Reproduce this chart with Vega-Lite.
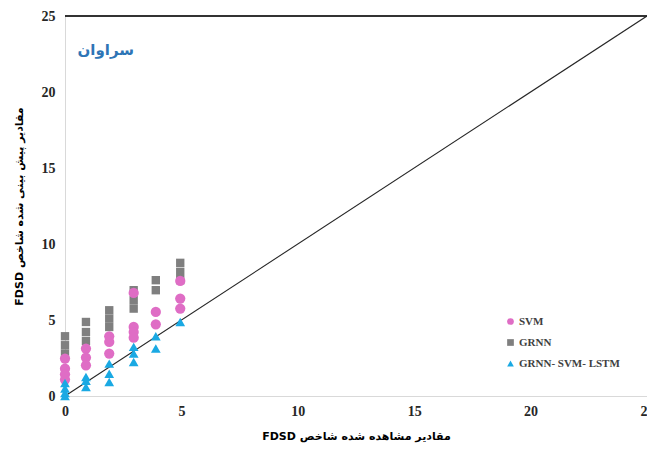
{
  "$schema": "https://vega.github.io/schema/vega-lite/v6.json",
  "width": 582,
  "height": 380,
  "autosize": {"type": "none"},
  "padding": {"left": 65, "top": 16, "right": 0, "bottom": 54},
  "background": "white",
  "config": {
    "view": {"stroke": null},
    "axis": {
      "grid": false,
      "ticks": false,
      "labelFlush": false,
      "domainColor": "#d9d9d9",
      "labelFont": "Liberation Serif",
      "labelFontSize": 14,
      "labelFontWeight": "bold",
      "labelColor": "#262626",
      "titleFont": "DejaVu Sans",
      "titleFontSize": 11,
      "titleFontWeight": "bold",
      "titleColor": "#000000"
    },
    "legend": {
      "symbolSize": 45
    }
  },
  "datasets": {
    "points": [
      {"model": "GRNN", "observed": 0, "predicted": 3.93},
      {"model": "GRNN", "observed": 0, "predicted": 3.34},
      {"model": "GRNN", "observed": 0, "predicted": 2.79},
      {"model": "GRNN", "observed": 0.9, "predicted": 4.87},
      {"model": "GRNN", "observed": 0.9, "predicted": 4.21},
      {"model": "GRNN", "observed": 0.9, "predicted": 3.62},
      {"model": "GRNN", "observed": 1.9, "predicted": 5.64},
      {"model": "GRNN", "observed": 1.9, "predicted": 5.09},
      {"model": "GRNN", "observed": 1.9, "predicted": 4.54},
      {"model": "GRNN", "observed": 2.95, "predicted": 6.96},
      {"model": "GRNN", "observed": 2.95, "predicted": 6.3},
      {"model": "GRNN", "observed": 2.95, "predicted": 5.75},
      {"model": "GRNN", "observed": 3.9, "predicted": 7.62},
      {"model": "GRNN", "observed": 3.9, "predicted": 6.96},
      {"model": "GRNN", "observed": 4.95, "predicted": 8.76},
      {"model": "GRNN", "observed": 4.95, "predicted": 8.17},
      {"model": "GRNN", "observed": 4.95, "predicted": 7.62},
      {"model": "SVM", "observed": 0, "predicted": 2.46},
      {"model": "SVM", "observed": 0, "predicted": 1.8},
      {"model": "SVM", "observed": 0, "predicted": 1.43},
      {"model": "SVM", "observed": 0, "predicted": 1.08},
      {"model": "SVM", "observed": 0.9, "predicted": 3.12},
      {"model": "SVM", "observed": 0.9, "predicted": 2.53},
      {"model": "SVM", "observed": 0.9, "predicted": 2.02},
      {"model": "SVM", "observed": 1.9, "predicted": 3.93},
      {"model": "SVM", "observed": 1.9, "predicted": 3.56},
      {"model": "SVM", "observed": 1.9, "predicted": 2.79},
      {"model": "SVM", "observed": 2.95, "predicted": 6.78},
      {"model": "SVM", "observed": 2.95, "predicted": 4.54},
      {"model": "SVM", "observed": 2.95, "predicted": 4.21},
      {"model": "SVM", "observed": 2.95, "predicted": 3.84},
      {"model": "SVM", "observed": 3.9, "predicted": 5.53},
      {"model": "SVM", "observed": 3.9, "predicted": 4.72},
      {"model": "SVM", "observed": 4.95, "predicted": 7.57},
      {"model": "SVM", "observed": 4.95, "predicted": 6.41},
      {"model": "SVM", "observed": 4.95, "predicted": 5.75},
      {"model": "GRNN- SVM- LSTM", "observed": 0, "predicted": 0.86},
      {"model": "GRNN- SVM- LSTM", "observed": 0, "predicted": 0.49},
      {"model": "GRNN- SVM- LSTM", "observed": 0, "predicted": 0.2},
      {"model": "GRNN- SVM- LSTM", "observed": 0, "predicted": 0.0},
      {"model": "GRNN- SVM- LSTM", "observed": 0.9, "predicted": 1.25},
      {"model": "GRNN- SVM- LSTM", "observed": 0.9, "predicted": 1.0},
      {"model": "GRNN- SVM- LSTM", "observed": 0.9, "predicted": 0.59},
      {"model": "GRNN- SVM- LSTM", "observed": 1.9, "predicted": 2.13},
      {"model": "GRNN- SVM- LSTM", "observed": 1.9, "predicted": 1.47},
      {"model": "GRNN- SVM- LSTM", "observed": 1.9, "predicted": 0.92},
      {"model": "GRNN- SVM- LSTM", "observed": 2.95, "predicted": 3.23},
      {"model": "GRNN- SVM- LSTM", "observed": 2.95, "predicted": 2.79},
      {"model": "GRNN- SVM- LSTM", "observed": 2.95, "predicted": 2.24},
      {"model": "GRNN- SVM- LSTM", "observed": 3.9, "predicted": 3.93},
      {"model": "GRNN- SVM- LSTM", "observed": 3.9, "predicted": 3.12},
      {"model": "GRNN- SVM- LSTM", "observed": 4.95, "predicted": 4.87}
    ],
    "identity": [
      {"observed": 0, "predicted": 0},
      {"observed": 25, "predicted": 25}
    ],
    "station": [
      {"name": "سراوان", "observed": 1.75, "predicted": 22.75}
    ]
  },
  "encoding": {
    "x": {
      "field": "observed",
      "type": "quantitative",
      "scale": {"domain": [0, 25], "nice": false},
      "axis": {"values": [0, 5, 10, 15, 20, 25], "labelPadding": 8, "title": "FDSD مقادیر مشاهده شده شاخص", "titlePadding": 12}
    },
    "y": {
      "field": "predicted",
      "type": "quantitative",
      "scale": {"domain": [0, 25], "nice": false},
      "axis": {"values": [0, 5, 10, 15, 20, 25], "labelPadding": 10, "title": "FDSD مقادیر پیش بینی شده شاخص", "titlePadding": 17}
    }
  },
  "layer": [
    {
      "data": {"name": "identity"},
      "mark": {"type": "rule", "color": "#262626", "strokeWidth": 1.5},
      "encoding": {"x": null, "y": {"datum": 25, "type": "quantitative"}}
    },
    {
      "data": {"name": "identity"},
      "mark": {"type": "line", "color": "#262626", "strokeWidth": 1.1},
      "encoding": {}
    },
    {
      "data": {"name": "points"},
      "encoding": {
        "color": {
          "field": "model",
          "type": "nominal",
          "scale": {"domain": ["SVM", "GRNN", "GRNN- SVM- LSTM"], "range": ["#df6dc5", "#7f7f7f", "#1aa9e3"]},
          "legend": {
            "title": null,
            "orient": "none",
            "legendX": 440,
            "legendY": 300,
            "labelFont": "Liberation Serif",
            "labelFontSize": 11,
            "labelFontWeight": "bold",
            "labelColor": "#404040",
            "labelOffset": 3,
            "rowPadding": 9
          }
        },
        "shape": {
          "field": "model",
          "type": "nominal",
          "scale": {"domain": ["SVM", "GRNN", "GRNN- SVM- LSTM"], "range": ["circle", "square", "triangle-up"]},
          "legend": null
        }
      },
      "layer": [
        {
          "transform": [{"filter": "datum.model === 'GRNN'"}],
          "mark": {"type": "point", "filled": true, "opacity": 1, "size": 70}
        },
        {
          "transform": [{"filter": "datum.model === 'SVM'"}],
          "mark": {"type": "point", "filled": true, "opacity": 1, "size": 105}
        },
        {
          "transform": [{"filter": "datum.model === 'GRNN- SVM- LSTM'"}],
          "mark": {"type": "point", "filled": true, "opacity": 1, "size": 95}
        }
      ]
    },
    {
      "data": {"name": "station"},
      "mark": {"type": "text", "font": "DejaVu Sans", "fontSize": 15, "fontWeight": "bold", "color": "#2e75b6", "align": "center", "baseline": "middle"},
      "encoding": {
        "text": {"field": "name"}
      }
    }
  ]
}
